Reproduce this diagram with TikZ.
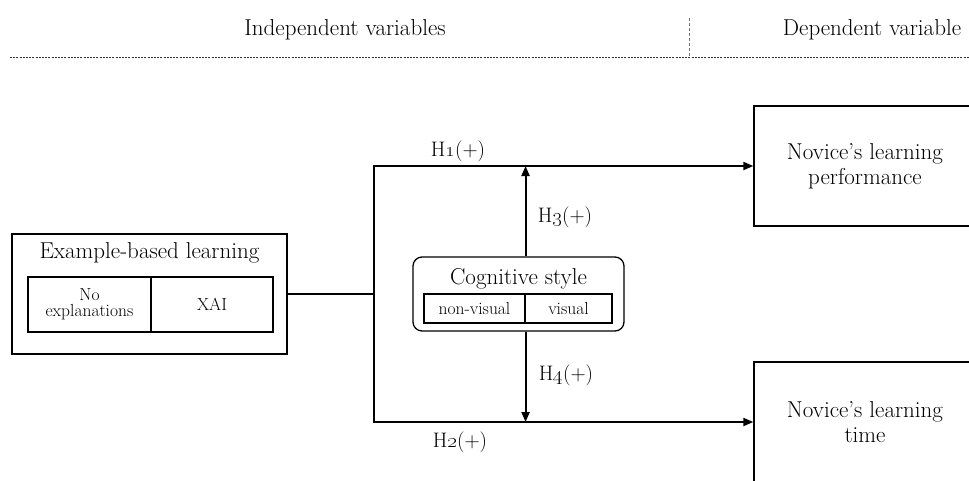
\documentclass[tikz,border=0pt]{standalone}
\usepackage{tikz}
\usetikzlibrary{arrows.meta}
\usetikzlibrary{calc}
\tikzset{
    frame/.style={draw, line width=1.3pt, inner sep=0pt},
    cell/.style={draw, line width=1.1pt, inner sep=0pt, align=center,
        font=\fontsize{17.5}{19}\selectfont},
    link/.style={line width=2pt},
    linkarrow/.style={link, -{Triangle[length=10pt, width=8pt]}},
    label/.style={font=\fontsize{23}{26}\selectfont, inner sep=0pt},
    hlabel/.style={font=\fontsize{21}{24}\selectfont, inner sep=0pt},
    outcome/.style={frame, align=center, minimum width=222, minimum height=120,
        font=\fontsize{23}{25}\selectfont},
}
\newcommand{\hyp}[1]{H\oldstylenums{#1}(+)}

\begin{document}
\begin{tikzpicture}[x=1pt, y=-1pt, font=\fontsize{23}{27}\selectfont]

    \def\pagew{969}
    \def\pageh{480}

    \clip (0,0) rectangle (\pagew,\pageh);

    % header
    \node (IV) at (345,30) {Independent variables};
    \node (DV) at (872,30) {Dependent variable};
    \draw[line width=0.8pt, dash pattern=on 2pt off 1.2pt, black!80] (10,57) -- (\pagew,57);
    \draw[line width=0.8pt, dash pattern=on 3pt off 2pt, black!55] (689,18) -- (689,57);

    % example-based learning
    \node[frame, minimum width=275, minimum height=120] (EBL) at (149.5,294) {};
    \node[label] (EBLt) at (149.5,253) {Example-based learning};
    \node[cell, minimum width=123, minimum height=55] (NOEX) at (89.5,304.5) {No\\[-3pt]explanations};
    \node[cell, minimum width=122, minimum height=55] (XAI) at (212,304.5) {XAI};

    % cognitive style
    \node[frame, rounded corners=9pt, minimum width=211, minimum height=74] (COG) at (518.5,294) {};
    \node[label] (COGt) at (518.5,279) {Cognitive style};
    \node[cell, minimum width=101, minimum height=29] (NV) at (474.5,308.5) {non-visual};
    \node[cell, minimum width=87, minimum height=29] (VIS) at (568.5,308.5) {visual};

    % outcomes
    \node[outcome] (PERF) at (865,166) {Novice's learning\\performance};
    \node[outcome] (TIME) at (865,422) {Novice's learning\\time};

    \coordinate (split) at (374,294);
    \coordinate (mod) at (COG.north -| NV.east);

    \draw[link] (EBL.east) -- (split);
    \draw[linkarrow] (split) |- (PERF.west);
    \draw[linkarrow] (split) |- (TIME.west);
    \draw[linkarrow] (mod) -- (mod |- PERF.west);
    \draw[linkarrow] (COG.south -| NV.east) -- (mod |- TIME.west);

    \begin{scope}[hlabel]
        \node (H1) at (458,151) {\hyp{1}};
        \node (H2) at (460,442) {\hyp{2}};
        \node (H3) at (565,217) {\hyp{3}};
        \node (H4) at (566,375) {\hyp{4}};
    \end{scope}

\end{tikzpicture}
\end{document}
